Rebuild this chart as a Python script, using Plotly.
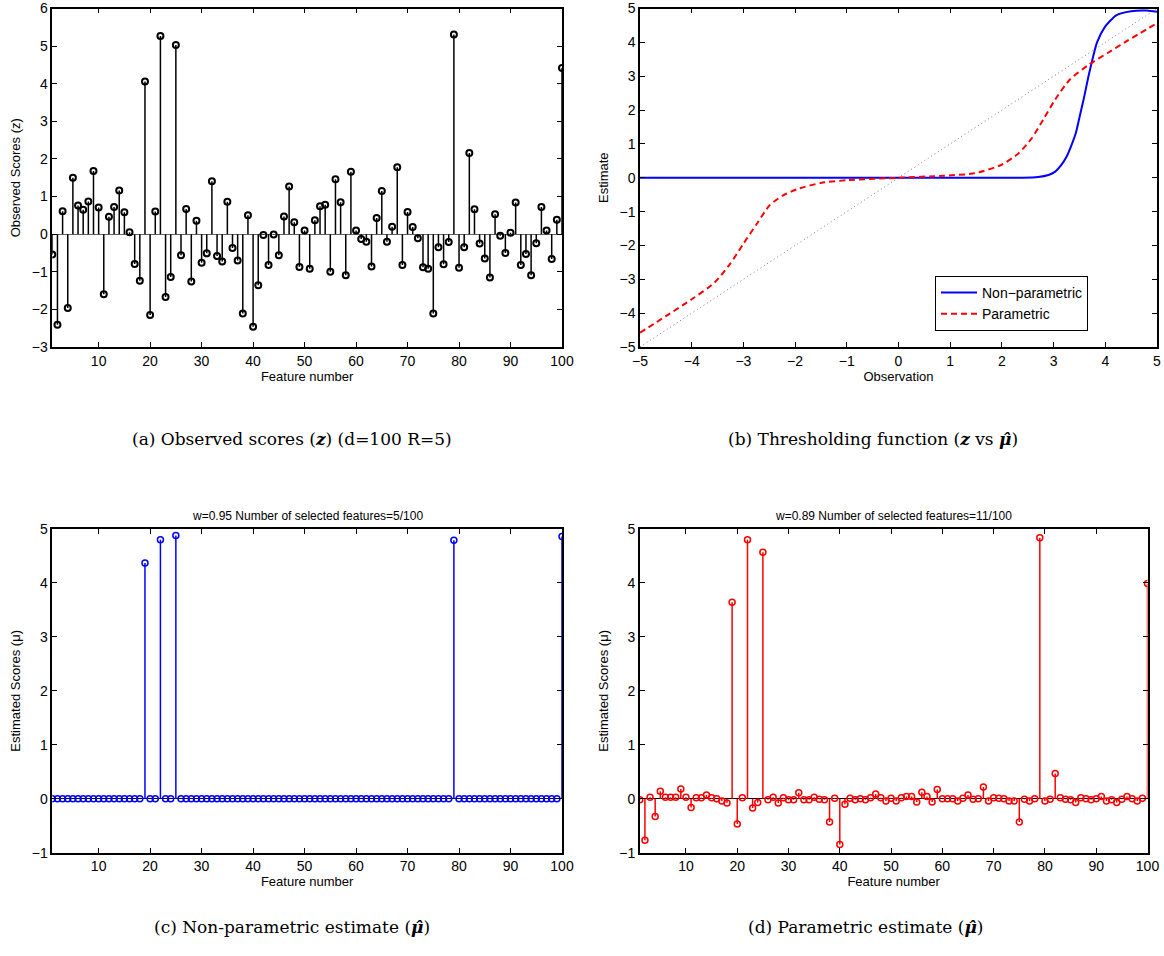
import plotly.graph_objects as go

# ---------------- data ----------------
features = list(range(1, 101))

observed_scores = [
    -0.54, -2.41, 0.61, -1.96, 1.50, 0.76, 0.65, 0.87, 1.68, 0.71,
    -1.60, 0.46, 0.72, 1.16, 0.58, 0.05, -0.79, -1.24, 4.06, -2.15,
    0.60, 5.27, -1.67, -1.14, 5.03, -0.56, 0.67, -1.26, 0.36, -0.76,
    -0.51, 1.41, -0.58, -0.73, 0.86, -0.37, -0.70, -2.11, 0.50, -2.46,
    -1.36, -0.02, -0.82, -0.01, -0.56, 0.47, 1.27, 0.32, -0.87, 0.10,
    -0.92, 0.37, 0.74, 0.78, -1.00, 1.46, 0.85, -1.09, 1.66, 0.10,
    -0.13, -0.20, -0.86, 0.43, 1.15, -0.20, 0.20, 1.78, -0.82, 0.59,
    0.19, -0.11, -0.88, -0.92, -2.11, -0.35, -0.80, -0.21, 5.31, -0.89,
    -0.35, 2.16, 0.66, -0.25, -0.65, -1.15, 0.53, -0.04, -0.50, 0.04,
    0.84, -0.82, -0.53, -1.09, -0.24, 0.72, 0.10, -0.66, 0.38, 4.42,
]

nonparam_estimate = [0.0] * 100
nonparam_selected = {19: 4.37, 22: 4.80, 25: 4.88, 79: 4.79, 100: 4.86}
for k, v in nonparam_selected.items():
    nonparam_estimate[k - 1] = v

param_estimate = [
    -0.02, -0.77, 0.03, -0.33, 0.14, 0.03, 0.03, 0.03, 0.18, 0.03,
    -0.16, 0.02, 0.02, 0.07, 0.02, 0.00, -0.04, -0.08, 3.64, -0.47,
    0.02, 4.80, -0.17, -0.07, 4.57, -0.02, 0.03, -0.08, 0.02, -0.02,
    -0.02, 0.11, -0.02, -0.02, 0.03, -0.01, -0.02, -0.43, 0.01, -0.85,
    -0.10, 0.01, -0.02, 0.00, -0.02, 0.02, 0.09, 0.02, -0.04, 0.01,
    -0.04, 0.02, 0.04, 0.04, -0.06, 0.12, 0.04, -0.06, 0.17, 0.00,
    0.00, 0.00, -0.04, 0.01, 0.07, -0.01, 0.00, 0.22, -0.04, 0.02,
    0.01, 0.00, -0.04, -0.04, -0.43, -0.01, -0.04, 0.00, 4.84, -0.04,
    -0.01, 0.47, 0.02, -0.01, -0.02, -0.07, 0.02, 0.00, -0.02, 0.00,
    0.04, -0.04, -0.02, -0.07, -0.01, 0.04, 0.00, -0.04, 0.01, 3.99,
]

# thresholding functions (panel b)
np_obs = [-5, -2, 0, 2.0, 2.4, 2.7, 2.9, 3.03, 3.15, 3.25, 3.35, 3.43, 3.5, 3.58,
          3.69, 3.84, 3.99, 4.21, 4.5, 4.8, 5.0]
np_est = [0, 0, 0, 0, 0.0, 0.02, 0.08, 0.18, 0.38, 0.62, 0.98, 1.32, 1.78, 2.31,
          3.10, 4.00, 4.45, 4.80, 4.92, 4.94, 4.90]
p_obs = [-5, -4.5, -4.0, -3.56, -3.26, -3.0, -2.74, -2.49, -2.23, -1.93, -1.49,
         -0.97, 0, 0.88, 1.47, 1.99, 2.32, 2.58, 2.8, 3.03, 3.32, 3.69, 4.06, 4.43, 5]
p_est = [-4.58, -4.09, -3.59, -3.10, -2.55, -1.95, -1.36, -0.81, -0.52, -0.32, -0.15,
         -0.07, 0, 0.06, 0.13, 0.38, 0.72, 1.17, 1.72, 2.31, 2.91, 3.35, 3.70, 4.05, 4.57]
identity_x = [-5, 5]
identity_y = [-5, 5]

ticks_feature = [10, 20, 30, 40, 50, 60, 70, 80, 90, 100]
ticks_a_y = [-3, -2, -1, 0, 1, 2, 3, 4, 5, 6]
ticks_b = [-5, -4, -3, -2, -1, 0, 1, 2, 3, 4, 5]
ticks_cd_y = [-1, 0, 1, 2, 3, 4, 5]


def stem_xy(xs, ys):
    sx, sy = [], []
    for x, y in zip(xs, ys):
        sx += [x, x, None]
        sy += [0, y, None]
    return sx, sy


W, H = 1164, 956
FONT = "Liberation Sans, Arial, sans-serif"
SERIF = "DejaVu Serif, serif"

fig = go.Figure()

# ---- (a) observed scores
sx, sy = stem_xy(features, observed_scores)
fig.add_trace(go.Scatter(x=sx, y=sy, mode="lines", line=dict(color="black", width=1.5),
                         xaxis="x", yaxis="y", showlegend=False, hoverinfo="skip"))
fig.add_trace(go.Scatter(x=features, y=observed_scores, mode="markers",
                         marker=dict(symbol="circle-open", size=6, color="black",
                                     line=dict(color="black", width=2)),
                         xaxis="x", yaxis="y", showlegend=False))

# ---- (b) thresholding functions
fig.add_trace(go.Scatter(x=identity_x, y=identity_y, mode="lines",
                         line=dict(color="#7a7a7a", width=1, dash="1px,3px"),
                         xaxis="x2", yaxis="y2", showlegend=False, hoverinfo="skip"))
fig.add_trace(go.Scatter(x=np_obs, y=np_est, mode="lines", name="Non−parametric",
                         line=dict(color="#0000ff", width=2, shape="spline", smoothing=0.6),
                         xaxis="x2", yaxis="y2"))
fig.add_trace(go.Scatter(x=p_obs, y=p_est, mode="lines", name="Parametric",
                         line=dict(color="#ff0000", width=2, dash="6px,4px",
                                   shape="spline", smoothing=0.6),
                         xaxis="x2", yaxis="y2"))

# ---- (c) non-parametric estimate
sx, sy = stem_xy(features, nonparam_estimate)
fig.add_trace(go.Scatter(x=sx, y=sy, mode="lines", line=dict(color="#0000ff", width=1.5),
                         xaxis="x3", yaxis="y3", showlegend=False, hoverinfo="skip"))
fig.add_trace(go.Scatter(x=features, y=nonparam_estimate, mode="markers",
                         marker=dict(symbol="circle-open", size=6, color="#0000ff",
                                     line=dict(color="#0000ff", width=1.5)),
                         xaxis="x3", yaxis="y3", showlegend=False))

# ---- (d) parametric estimate
sx, sy = stem_xy(features, param_estimate)
fig.add_trace(go.Scatter(x=sx, y=sy, mode="lines", line=dict(color="#ff0000", width=1.5),
                         xaxis="x4", yaxis="y4", showlegend=False, hoverinfo="skip"))
fig.add_trace(go.Scatter(x=features, y=param_estimate, mode="markers",
                         marker=dict(symbol="circle-open", size=6, color="#ff0000",
                                     line=dict(color="#ff0000", width=1.5)),
                         xaxis="x4", yaxis="y4", showlegend=False))


def ax(domain, rng, tickvals, title=None, anchor=None, zeroline=False, zcolor="black",
       standoff=3):
    d = dict(domain=domain, range=rng, tickvals=tickvals, ticks="inside", ticklen=5,
             tickwidth=1, tickcolor="black", showline=True, linecolor="black",
             linewidth=1.5, mirror="ticks", showgrid=False, zeroline=zeroline,
             zerolinecolor=zcolor, zerolinewidth=1.2, automargin=False,
             tickfont=dict(family=FONT, size=14, color="black"))
    if title:
        d["title"] = dict(text=title, font=dict(family=FONT, size=13, color="black"),
                          standoff=standoff)
    if anchor:
        d["anchor"] = anchor
    return d


xa = [52.3 / W, 562 / W]
xb = [640 / W, 1157 / W]
xd = [639.8 / W, 1147.5 / W]
ytop = [1 - 347 / H, 1 - 8.5 / H]
ybot = [1 - 852.7 / H, 1 - 529 / H]

fig.update_layout(
    width=W, height=H,
    margin=dict(l=0, r=0, t=0, b=0),
    paper_bgcolor="white", plot_bgcolor="white",
    font=dict(family=FONT, color="black"),
    xaxis=ax(xa, [1, 100], ticks_feature, "Feature number", "y", standoff=1),
    yaxis=ax(ytop, [-3, 6], ticks_a_y, "Observed Scores (z)", "x", zeroline=True,
             zcolor="#666", standoff=8),
    xaxis2=ax(xb, [-5, 5], ticks_b, "Observation", "y2", standoff=1),
    yaxis2=ax(ytop, [-5, 5], ticks_b, "Estimate", "x2", standoff=8),
    xaxis3=ax(xa, [1, 100], ticks_feature, "Feature number", "y3", standoff=1),
    yaxis3=ax(ybot, [-1, 5], ticks_cd_y, "Estimated Scores (μ)", "x3", zeroline=True,
              standoff=8),
    xaxis4=ax(xd, [1, 100], ticks_feature, "Feature number", "y4", standoff=1),
    yaxis4=ax(ybot, [-1, 5], ticks_cd_y, "Estimated Scores (μ)", "x4", zeroline=True,
              standoff=8),
    legend=dict(x=935 / W, y=1 - 276 / H, xanchor="left", yanchor="top",
                bgcolor="white", bordercolor="black", borderwidth=1,
                font=dict(family=FONT, size=14, color="black"),
                tracegroupgap=0, itemwidth=36),
    showlegend=True,
)

annos = [
    dict(text="w=0.95 Number of selected features=5/100", x=(xa[0] + xa[1]) / 2,
         y=1 - 516 / H, font=dict(family=FONT, size=12)),
    dict(text="w=0.89 Number of selected features=11/100", x=(xd[0] + xd[1]) / 2,
         y=1 - 516 / H, font=dict(family=FONT, size=12)),
    dict(text="(a) Observed scores (<b><i>z</i></b>) (d=100 R=5)", x=292 / W,
         y=1 - 439 / H, font=dict(family=SERIF, size=17)),
    dict(text="(b) Thresholding function (<b><i>z</i></b> vs <b><i>μ̂</i></b>)", x=873 / W,
         y=1 - 439 / H, font=dict(family=SERIF, size=17)),
    dict(text="(c) Non-parametric estimate (<b><i>μ̂</i></b>)", x=292 / W,
         y=1 - 927 / H, font=dict(family=SERIF, size=17)),
    dict(text="(d) Parametric estimate (<b><i>μ̂</i></b>)", x=865 / W,
         y=1 - 927 / H, font=dict(family=SERIF, size=17)),
]
for a in annos:
    a.update(xref="paper", yref="paper", showarrow=False, xanchor="center", yanchor="middle")
    a["font"]["color"] = "black"
    fig.add_annotation(**a)

fig.write_html("out.html",
               config={"displayModeBar": False},
               post_script="document.body.style.margin='0px';document.body.style.overflow='hidden';")
